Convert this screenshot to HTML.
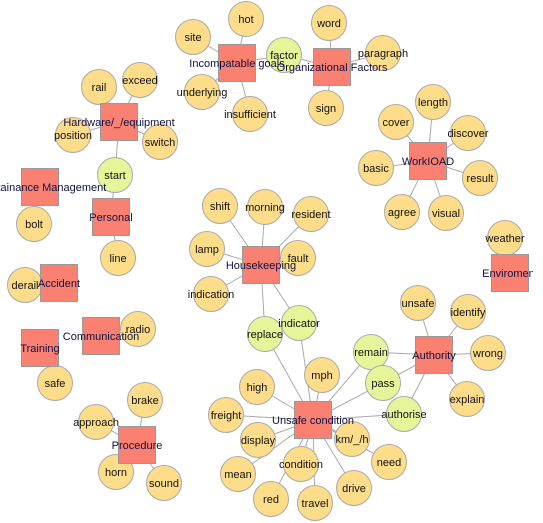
<!DOCTYPE html>
<html><head><meta charset="utf-8"><style>
html,body{margin:0;padding:0;background:#fff;}
svg{display:block;font-family:"Liberation Sans",sans-serif;font-size:11px;}
</style></head><body>
<svg id="g" width="543" height="523">
<defs><clipPath id="clip"><rect x="0" y="0" width="533" height="523"/></clipPath></defs>
<g id="edges"></g>
<g id="nodes" clip-path="url(#clip)"></g>
</svg>
<script>
const hubNames=["Incompatable goals","Organizational Factors","Hardware/_/equipment","Maintainance Management","Personal","Accident","Communication","Training","Procedure","Housekeeping","WorkIOAD","Enviroment","Authority","Unsafe condition"];
const hubX=[237,332,119,40,111,59,101,40,137,261,428,510,434,313];
const hubY=[63,67,122,187,217,283,336,348,445,265,161,273,355,420];
const leafNames=["hot","site","underlying","insufficient","factor","word","paragraph","sign","rail","exceed","position","switch","start","bolt","line","length","cover","discover","basic","result","agree","visual","weather","shift","morning","resident","lamp","fault","indication","indicator","replace","derail","radio","safe","unsafe","identify","wrong","explain","remain","pass","authorise","mph","high","freight","display","km/_/h","need","mean","condition","drive","red","travel","brake","approach","horn","sound"];
const leafX=[246,193,202,250,284,329,383,326,99,140,73,160,115,34,118,433,396,468,376,480,402,446,505,220,265,311,207,298,211,299,265,25,138,55,418,468,488,467,371,383,404,322,257,226,258,352,389,238,301,354,271,315,145,96,116,164];
const leafY=[19,37,92,114,55,23,53,108,87,80,135,142,175,224,258,102,122,133,168,178,212,213,238,206,207,214,249,258,294,323,334,285,329,383,303,312,353,399,352,383,414,375,387,415,440,439,462,474,464,488,499,503,400,422,472,483];
const shared=["factor","start","indicator","replace","remain","pass","authorise"];
const links=[
[0,"hot"],[0,"site"],[0,"underlying"],[0,"insufficient"],[0,"factor"],[1,"factor"],[1,"word"],[1,"paragraph"],[1,"sign"],
[2,"rail"],[2,"exceed"],[2,"position"],[2,"switch"],[2,"start"],[4,"start"],[3,"bolt"],[4,"line"],
[10,"length"],[10,"cover"],[10,"discover"],[10,"basic"],[10,"result"],[10,"agree"],[10,"visual"],[11,"weather"],
[9,"shift"],[9,"morning"],[9,"resident"],[9,"lamp"],[9,"fault"],[9,"indication"],[9,"indicator"],[9,"replace"],
[5,"derail"],[6,"radio"],[7,"safe"],
[12,"unsafe"],[12,"identify"],[12,"wrong"],[12,"explain"],[12,"remain"],[12,"pass"],[12,"authorise"],
[13,"indicator"],[13,"replace"],[13,"remain"],[13,"pass"],[13,"authorise"],[13,"mph"],[13,"high"],[13,"freight"],[13,"display"],[13,"km/_/h"],[13,"need"],[13,"mean"],[13,"condition"],[13,"drive"],[13,"red"],[13,"travel"],
[8,"brake"],[8,"approach"],[8,"horn"],[8,"sound"]];
const NS="http://www.w3.org/2000/svg";
const E=document.getElementById("edges"),N=document.getElementById("nodes");
function slug(s){return s.toLowerCase().replace(/[^a-z0-9]+/g,"-").replace(/^-|-$/g,"");}
links.forEach(l=>{const i=leafNames.indexOf(l[1]);const ln=document.createElementNS(NS,"line");
ln.setAttribute("x1",hubX[l[0]]);ln.setAttribute("y1",hubY[l[0]]);ln.setAttribute("x2",leafX[i]);ln.setAttribute("y2",leafY[i]);
ln.setAttribute("stroke","#aaaaaa");ln.setAttribute("stroke-width","1");


E.appendChild(ln);});
leafNames.forEach((n,i)=>{const c=document.createElementNS(NS,"circle");
c.setAttribute("cx",leafX[i]);c.setAttribute("cy",leafY[i]);c.setAttribute("r",17.5);
c.setAttribute("fill",shared.includes(n)?"#e6f59a":"#fddc8a");c.setAttribute("stroke","#aaaaaa");


N.appendChild(c);});
hubNames.forEach((n,i)=>{const r=document.createElementNS(NS,"rect");
r.setAttribute("x",hubX[i]-18.5);r.setAttribute("y",hubY[i]-18.5);r.setAttribute("width",37);r.setAttribute("height",37);
r.setAttribute("fill","#fa8072");r.setAttribute("stroke","#999999");


N.appendChild(r);});
function label(n,x,y,col,nm){const t=document.createElementNS(NS,"text");
t.setAttribute("x",x);t.setAttribute("y",y+4);t.setAttribute("text-anchor","middle");t.setAttribute("fill",col);t.textContent=n;


N.appendChild(t);}
leafNames.forEach((n,i)=>label(n,leafX[i],leafY[i],"#111111",'label-'+slug(n)));
hubNames.forEach((n,i)=>label(n,hubX[i],hubY[i],"#101040",'label-'+slug(n)));
</script>
</body></html>
